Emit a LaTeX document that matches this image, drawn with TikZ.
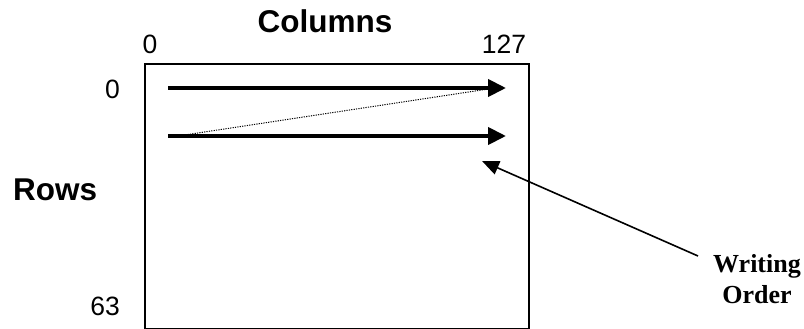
\documentclass[tikz,border=0pt]{standalone}
\usepackage{fontspec}
\setmainfont{Liberation Serif}
\setsansfont{Liberation Sans}
\usetikzlibrary{arrows.meta}
\begin{document}
\begin{tikzpicture}[x=1pt,y=-1pt,
  lbl/.style={inner sep=0pt,font=\sffamily\fontsize{26.5}{30}\selectfont},
  title/.style={inner sep=0pt,font=\sffamily\bfseries\fontsize{31.5}{36}\selectfont},
  note/.style={inner sep=0pt,align=center,font=\rmfamily\bfseries\fontsize{26}{31}\selectfont},
  rowarrow/.style={line width=4pt,-{Triangle[length=18pt,width=17pt]}},
  ptr/.style={line width=1.6pt,-{Triangle[length=17pt,width=14pt]}}]
\useasboundingbox (0,0) rectangle (804,329);
\node[draw,line width=2pt,minimum width=384pt,minimum height=265pt,inner sep=0pt,anchor=north west] (grid) at (144,63) {};
\node[title,anchor=base] (cols) at (325,33) {Columns};
\node[lbl,anchor=base] (c0) at (150,54) {0};
\node[lbl,anchor=base] (c127) at (504,54) {127};
\node[lbl,anchor=base east] (r0) at (120,99) {0};
\node[lbl,anchor=base east] (r63) at (120,315) {63};
\node[title,anchor=base west] (rows) at (13,200) {Rows};
\node[note,anchor=north] (wo) at (757,254) {Writing\\Order};
\coordinate (a1s) at (168,88);
\coordinate (a1e) at (506,88);
\coordinate (a2s) at (168,136);
\coordinate (a2e) at (506,136);
\coordinate (ds) at (178,136);
\coordinate (de) at (495,88);
\coordinate (pt) at (482,161);
\coordinate (pf) at (698,256);
\draw[rowarrow] (a1s) -- (a1e);
\draw[rowarrow] (a2s) -- (a2e);
\draw[line width=1pt,dash pattern=on 1.2pt off 1.2pt] (ds) -- (de);
\draw[ptr] (pf) -- (pt);
\end{tikzpicture}
\end{document}
